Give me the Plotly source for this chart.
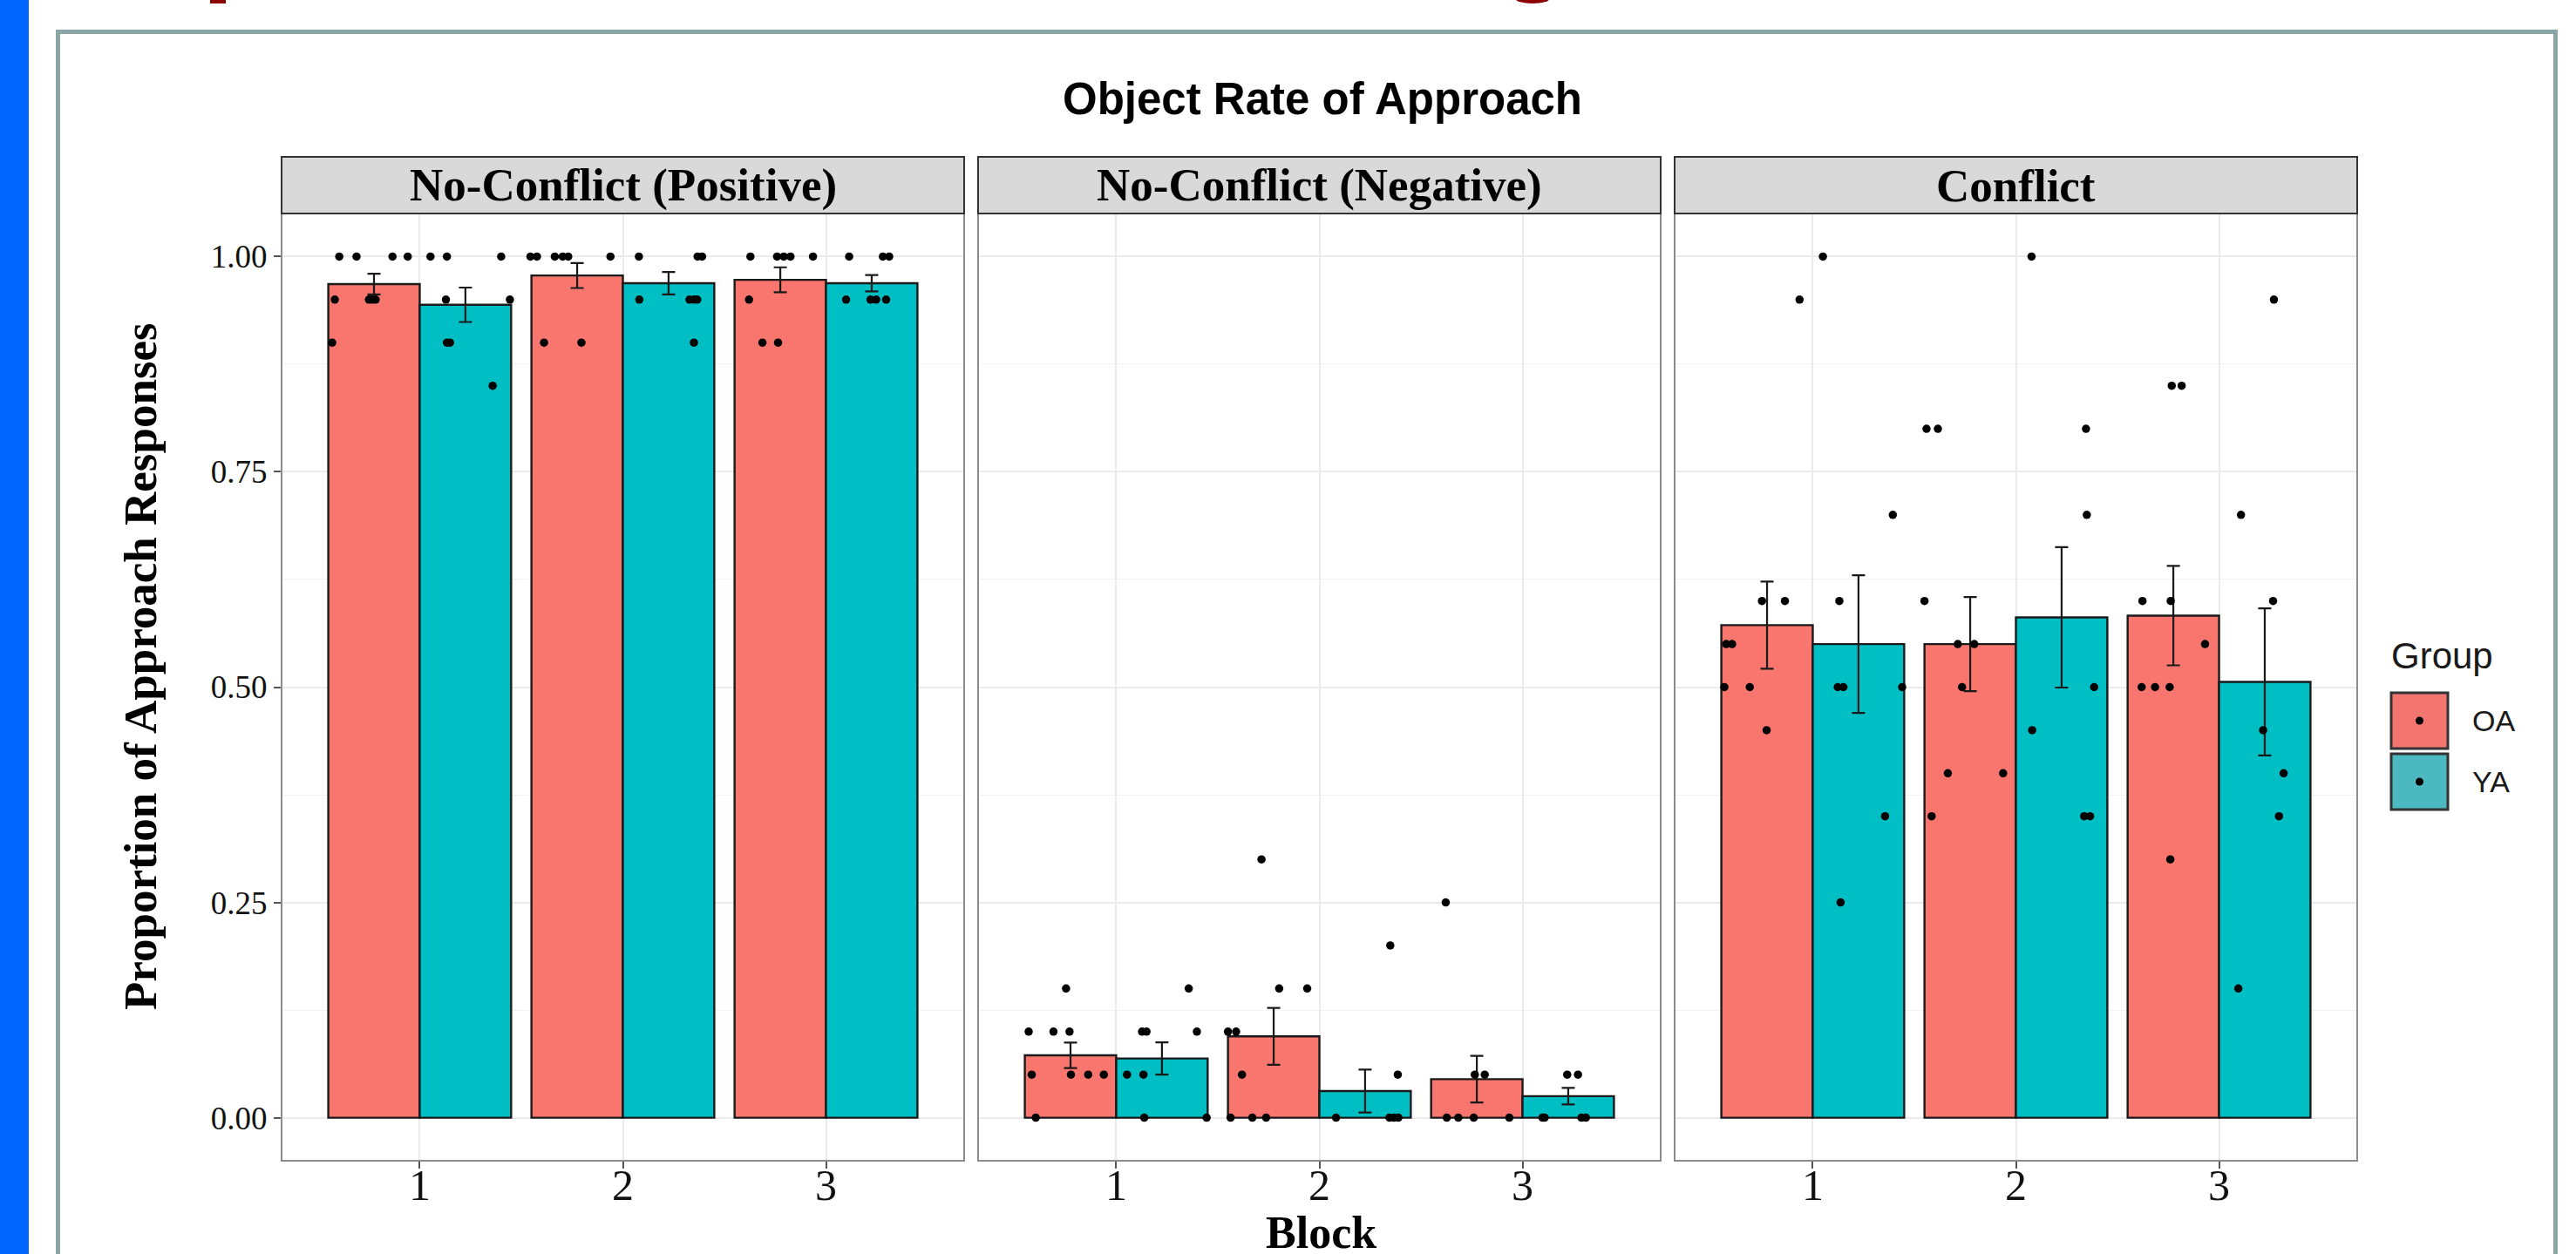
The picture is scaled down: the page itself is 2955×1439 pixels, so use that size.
import plotly.graph_objects as go

W, H = 2955, 1439

# ---------------- data ----------------
blocks = [1, 2, 3]
block_labels = ["1", "2", "3"]
panel_titles = ["No-Conflict (Positive)", "No-Conflict (Negative)", "Conflict"]
groups = ["OA", "YA"]
group_colors = ["#F8766D", "#00BFC4"]
legend_key_colors = ["#F2766F", "#4CB8C0"]
y_ticks = [0, 0.25, 0.5, 0.75, 1.0]
y_tick_labels = ["0.00", "0.25", "0.50", "0.75", "1.00"]

pos_oa_mean = [0.968, 0.978, 0.973]
pos_ya_mean = [0.944, 0.969, 0.969]
pos_oa_se = [0.012, 0.0145, 0.0145]
pos_ya_se = [0.020, 0.013, 0.0095]

neg_oa_mean = [0.0725, 0.0945, 0.0447]
neg_ya_mean = [0.0688, 0.031, 0.025]
neg_oa_se = [0.0148, 0.033, 0.0271]
neg_ya_se = [0.0188, 0.0249, 0.0096]

con_oa_mean = [0.572, 0.550, 0.583]
con_ya_mean = [0.550, 0.581, 0.506]
con_oa_se = [0.0506, 0.0546, 0.0577]
con_ya_se = [0.080, 0.0815, 0.0854]

# individual (jittered) participant points: x = block + jitter, y = proportion
pos_pts_x = [0.604, 0.689, 0.866, 0.941, 1.053, 1.134, 1.401,
             0.582, 0.750, 0.766, 0.783, 1.129, 1.444,
             0.569, 1.134, 1.149,
             1.359,
             1.545, 1.577, 1.665, 1.704, 1.731, 1.939, 2.079, 2.368, 2.390,
             2.081, 2.328, 2.350, 2.366,
             1.612, 1.796, 2.350,
             2.628, 2.759, 2.792, 2.825, 2.936, 3.114, 3.280, 3.311,
             2.621, 3.099, 3.219, 3.247, 3.296,
             2.687, 2.764]
pos_pts_y = [1.00] * 7 + [0.95] * 6 + [0.90] * 3 + [0.85] * 1 + \
            [1.00] * 9 + [0.95] * 4 + [0.90] * 3 + \
            [1.00] * 8 + [0.95] * 5 + [0.90] * 2

neg_pts_x = [0.753, 1.357,
             0.569, 0.691, 0.770, 1.127, 1.149, 1.397,
             0.584, 0.777, 0.862, 0.939, 1.053, 1.134,
             0.604, 1.138, 1.445,
             1.715,
             2.349,
             1.802, 1.940,
             1.550, 1.590,
             1.619, 2.386,
             1.563, 1.670, 1.738, 2.082, 2.345, 2.367, 2.389,
             2.622,
             2.765, 2.814, 3.220, 3.273,
             2.627, 2.684, 2.760, 2.935, 3.098, 3.109, 3.290, 3.312]
neg_pts_y = [0.15] * 2 + [0.10] * 6 + [0.05] * 6 + [0.00] * 3 + \
            [0.30] + [0.20] + [0.15] * 2 + [0.10] * 2 + [0.05] * 2 + [0.00] * 7 + \
            [0.25] + [0.05] * 4 + [0.00] * 8

con_pts_x = [1.050, 0.935, 1.394,
             0.750, 0.863, 1.131,
             0.574, 0.603,
             0.565, 0.690, 1.123, 1.151, 1.440,
             0.773, 1.356, 1.137,
             2.077,
             1.560, 1.616, 2.345,
             2.349, 1.550,
             1.714, 1.795,
             1.735, 2.385,
             2.080,
             1.665, 1.937,
             1.585, 2.336, 2.365,
             3.270,
             2.767, 2.816,
             3.108,
             2.623, 2.762, 3.266,
             2.931,
             2.619, 2.685, 2.757,
             3.217, 3.318, 3.295, 2.760, 3.095]
con_pts_y = [1.00, 0.95, 0.70,
             0.60, 0.60, 0.60,
             0.55, 0.55,
             0.50, 0.50, 0.50, 0.50, 0.50,
             0.45, 0.35, 0.25,
             1.00,
             0.80, 0.80, 0.80,
             0.70, 0.60,
             0.55, 0.55,
             0.50, 0.50,
             0.45,
             0.40, 0.40,
             0.35, 0.35, 0.35,
             0.95,
             0.85, 0.85,
             0.70,
             0.60, 0.60, 0.60,
             0.55,
             0.50, 0.50, 0.50,
             0.45, 0.40, 0.35, 0.30, 0.15]

panel_means = [(pos_oa_mean, pos_ya_mean), (neg_oa_mean, neg_ya_mean), (con_oa_mean, con_ya_mean)]
panel_ses = [(pos_oa_se, pos_ya_se), (neg_oa_se, neg_ya_se), (con_oa_se, con_ya_se)]
panel_pts = [(pos_pts_x, pos_pts_y), (neg_pts_x, neg_pts_y), (con_pts_x, con_pts_y)]

# ---------------- layout helpers (pixel -> paper) ----------------
def px(x):
    return x / W

def py(y):
    return 1 - y / H

panel_left = [323, 1122, 1921]
panel_w = 783
panel_top, panel_bot = 245, 1332
strip_top = 180

SERIF = "Liberation Serif, Times New Roman, serif"
SANS = "Liberation Sans, Arial, sans-serif"

fig = go.Figure()

bar_w = 0.45
for i in range(3):
    xa = "x" if i == 0 else f"x{i+1}"
    ya = "y" if i == 0 else f"y{i+1}"
    for g in range(2):
        fig.add_trace(go.Bar(
            x=blocks, y=panel_means[i][g],
            width=bar_w, offset=-bar_w if g == 0 else 0,
            marker=dict(color=group_colors[g], line=dict(color="#1a1a1a", width=2.4)),
            error_y=dict(type="data", array=panel_ses[i][g], color="#1a1a1a",
                         thickness=2.2, width=7.5),
            xaxis=xa, yaxis=ya, showlegend=False, name=groups[g]))
    fig.add_trace(go.Scatter(
        x=panel_pts[i][0], y=panel_pts[i][1], mode="markers",
        marker=dict(color="black", size=9.5),
        xaxis=xa, yaxis=ya, showlegend=False, hoverinfo="skip"))

layout = dict(
    width=W, height=H, margin=dict(l=0, r=0, t=0, b=0),
    paper_bgcolor="white", plot_bgcolor="white",
    barmode="overlay", showlegend=False,
)

shapes = []
annotations = []
for i in range(3):
    sx = "" if i == 0 else str(i + 1)
    layout["xaxis" + sx] = dict(
        domain=[px(panel_left[i]), px(panel_left[i] + panel_w)],
        range=[0.32, 3.68], tickvals=blocks, ticktext=block_labels,
        showgrid=True, gridcolor="#ebebeb", gridwidth=2,
        ticks="outside", ticklen=8, tickwidth=2, tickcolor="#555555",
        ticklabelstandoff=-24,
        tickfont=dict(family=SERIF, size=50, color="#111111"),
        zeroline=False, showline=False, anchor="y" + sx, fixedrange=True,
    )
    layout["yaxis" + sx] = dict(
        domain=[py(panel_bot), py(panel_top)],
        range=[-0.05, 1.05], tickvals=y_ticks, ticktext=y_tick_labels,
        showticklabels=(i == 0),
        showgrid=True, gridcolor="#ebebeb", gridwidth=2,
        minor=dict(tickvals=[0.125, 0.375, 0.625, 0.875], showgrid=True,
                   gridcolor="#f3f3f3", gridwidth=1, ticks=""),
        ticks="outside" if i == 0 else "", ticklen=8, tickwidth=2, tickcolor="#555555",
        tickfont=dict(family=SERIF, size=37, color="#111111"),
        zeroline=False, showline=False, anchor="x" + sx, fixedrange=True,
    )
    if i > 0:
        layout["yaxis" + sx]["matches"] = "y"
    # panel border
    shapes.append(dict(type="rect", xref=f"x{sx} domain", yref=f"y{sx} domain",
                       x0=0, x1=1, y0=0, y1=1, line=dict(color="#8c8c8c", width=2),
                       fillcolor="rgba(0,0,0,0)", layer="above"))
    # strip
    shapes.append(dict(type="rect", xref="paper", yref="paper",
                       x0=px(panel_left[i]), x1=px(panel_left[i] + panel_w),
                       y0=py(panel_top), y1=py(strip_top),
                       fillcolor="#d9d9d9", line=dict(color="#333333", width=2)))
    annotations.append(dict(text=f"<b>{panel_titles[i]}</b>", xref="paper", yref="paper",
                            x=px(panel_left[i] + panel_w / 2), y=py(212.5),
                            xanchor="center", yanchor="middle", showarrow=False,
                            font=dict(family=SERIF, size=53, color="black")))

# slide decorations: blue side bar, frame, and fragments of slide heading above the frame
shapes.append(dict(type="rect", xref="paper", yref="paper", x0=0, x1=px(33), y0=0, y1=1,
                   fillcolor="#0066FF", line=dict(width=0)))
frame_col = "#8AA5A6"
shapes.append(dict(type="line", xref="paper", yref="paper", x0=px(66.5), x1=px(66.5),
                   y0=py(34), y1=0, line=dict(color=frame_col, width=5)))
shapes.append(dict(type="line", xref="paper", yref="paper", x0=px(64), x1=px(2934),
                   y0=py(36.5), y1=py(36.5), line=dict(color=frame_col, width=5)))
shapes.append(dict(type="line", xref="paper", yref="paper", x0=px(2931.5), x1=px(2931.5),
                   y0=py(34), y1=0, line=dict(color=frame_col, width=5)))
shapes.append(dict(type="rect", xref="paper", yref="paper", x0=px(241), x1=px(259),
                   y0=py(4), y1=1, fillcolor="#8B0000", line=dict(width=0)))
shapes.append(dict(type="circle", xref="paper", yref="paper", x0=px(1738), x1=px(1778),
                   y0=py(4), y1=py(-8), fillcolor="#8B0000", line=dict(width=0)))

# titles
annotations.append(dict(text="<b>Object Rate of Approach</b>", xref="paper", yref="paper",
                        x=px(1517), y=py(114), xanchor="center", yanchor="middle",
                        showarrow=False, font=dict(family=SANS, size=51, color="black")))
annotations.append(dict(text="<b>Proportion of Approach Responses</b>", xref="paper", yref="paper",
                        x=px(161), y=py(765), xanchor="center", yanchor="middle", textangle=-90,
                        showarrow=False, font=dict(family=SERIF, size=53, color="black")))
annotations.append(dict(text="<b>Block</b>", xref="paper", yref="paper",
                        x=px(1515), y=py(1414), xanchor="center", yanchor="middle",
                        showarrow=False, font=dict(family=SERIF, size=52, color="black")))

# legend (drawn manually)
annotations.append(dict(text="Group", xref="paper", yref="paper", x=px(2741), y=py(752),
                        xanchor="left", yanchor="middle", showarrow=False,
                        font=dict(family=SANS, size=42, color="#1a1a1a")))
key_tops = [795, 865]
for g in range(2):
    t = key_tops[g]
    shapes.append(dict(type="rect", xref="paper", yref="paper",
                       x0=px(2743), x1=px(2808), y0=py(t + 64), y1=py(t),
                       fillcolor=legend_key_colors[g], line=dict(color="#333333", width=3)))
    shapes.append(dict(type="circle", xref="paper", yref="paper",
                       x0=px(2771), x1=px(2780), y0=py(t + 36.5), y1=py(t + 27.5),
                       fillcolor="black", line=dict(width=0)))
    annotations.append(dict(text=groups[g], xref="paper", yref="paper", x=px(2834),
                            y=py(t + 32), xanchor="left", yanchor="middle", showarrow=False,
                            font=dict(family=SANS, size=34, color="#1a1a1a")))

layout["shapes"] = shapes
layout["annotations"] = annotations
fig.update_layout(**layout)

fig.write_html("out.html", config={"displayModeBar": False})
